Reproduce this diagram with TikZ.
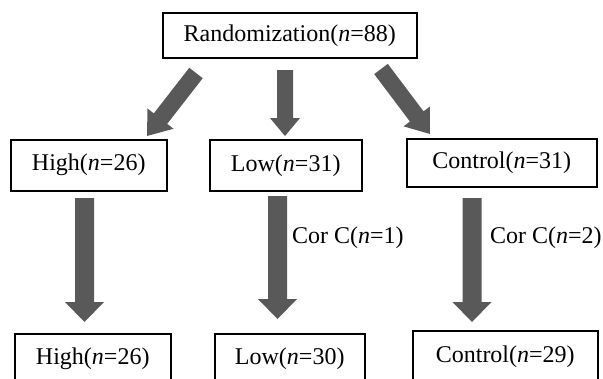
\documentclass[tikz,border=0pt]{standalone}
\usepackage{fontspec}
\setmainfont{Liberation Serif}
\usetikzlibrary{calc}
\definecolor{arrowgray}{RGB}{89,89,89}

% Filled block arrow: #1 tail, #2 tip, #3 shaft half width,
% #4 head half width, #5 head length (all in pt)
\newcommand\blockarrow[5]{%
  \fill[arrowgray] let \p1=(#1), \p2=(#2),
    \n1={atan2(\y2-\y1,\x2-\x1)}, \n2={veclen(\x2-\x1,\y2-\y1)} in
    [shift={(\p1)}, rotate=\n1]
    (0,-#3) -- ({\n2-#5},-#3) -- ({\n2-#5},-#4) -- (\n2,0)
    -- ({\n2-#5},#4) -- ({\n2-#5},#3) -- (0,#3) -- cycle;
}

\tikzset{
  box/.style={draw, line width=1.5pt, anchor=north west, inner sep=0pt,
    font=\fontsize{24}{28}\selectfont},
  note/.style={anchor=west, inner sep=0pt, font=\fontsize{24}{28}\selectfont}
}

\begin{document}
\begin{tikzpicture}[x=1pt, y=1pt]
  \useasboundingbox (0,0) rectangle (603,-378);
  \clip (0,0) rectangle (603,-378);

  % boxes
  \node[box, minimum width=254pt, minimum height=45pt] (rand) at (162,-12)
    {Randomization(\textit{n}=88)};

  \node[box, minimum width=156pt, minimum height=51pt] (high) at (10,-139)
    {High(\textit{n}=26)};
  \node[box, minimum width=152pt, minimum height=51pt] (low) at (209,-139)
    {Low(\textit{n}=31)};
  \node[box, minimum width=190pt, minimum height=48pt] (ctrl) at (406,-138)
    {Control(\textit{n}=31)};

  \node[box, minimum width=156pt, minimum height=50pt] (highf) at (14,-333)
    {High(\textit{n}=26)};
  \node[box, minimum width=150pt, minimum height=50pt] (lowf) at (214,-333)
    {Low(\textit{n}=30)};
  \node[box, minimum width=185pt, minimum height=52pt] (ctrlf) at (412,-330)
    {Control(\textit{n}=29)};

  % arrow end points
  \coordinate (aLs) at (196,-73);   \coordinate (aLe) at (147,-136);
  \coordinate (aMs) at (285,-70);   \coordinate (aMe) at (285,-136);
  \coordinate (aRs) at (381,-69);   \coordinate (aRe) at (430,-134);

  \coordinate (bHs) at (84.5,-198);  \coordinate (bHe) at (84.5,-322);
  \coordinate (bLs) at (277.5,-196); \coordinate (bLe) at (277.5,-319);
  \coordinate (bCs) at (472,-198);   \coordinate (bCe) at (472,-322);

  % arrows
  \blockarrow{aLs}{aLe}{8.5}{16.5}{22}
  \blockarrow{aMs}{aMe}{8}{15}{18}
  \blockarrow{aRs}{aRe}{8.5}{16.5}{22}

  \blockarrow{bHs}{bHe}{9.5}{19.5}{20}
  \blockarrow{bLs}{bLe}{9.5}{19.5}{20}
  \blockarrow{bCs}{bCe}{9.5}{19.5}{20}

  % drop-out labels
  \node[note] (corc1) at (292,-238) {Cor C(\textit{n}=1)};
  \node[note] (corc2) at (490,-238) {Cor C(\textit{n}=2)};
\end{tikzpicture}
\end{document}
